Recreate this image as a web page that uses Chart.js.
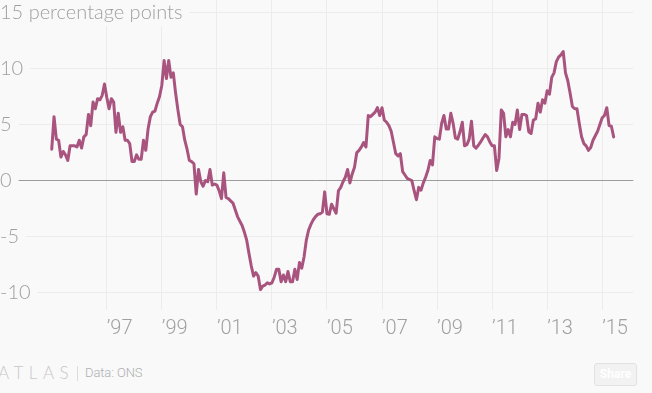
<!DOCTYPE html>
<html>
<head>
<meta charset="utf-8">
<script src="https://cdn.jsdelivr.net/npm/chart.js@4"></script>
<style>
html,body{margin:0;padding:0;background:#f9f9f9;width:652px;height:393px;overflow:hidden;}
#wrap{position:absolute;left:0;top:0;width:652px;height:346px;}
#logo{position:absolute;left:-2px;top:362px;font:300 17px "Lato",sans-serif;letter-spacing:5.5px;color:#c8c8c8;}
#sep{position:absolute;left:77px;top:366px;width:1px;height:15px;background:#dcdcdc;}
#source{position:absolute;left:85px;top:365px;font:300 13px "Roboto",sans-serif;color:#b0b0b0;letter-spacing:-0.1px;}
#share{position:absolute;left:594px;top:363px;width:41px;height:21px;border:1px solid #e2e2e2;border-radius:3px;background:#f2f2f2;color:#ffffff;font:700 12px "Roboto",sans-serif;line-height:21px;text-align:center;}
</style>
</head>
<body>
<div id="wrap"><canvas id="c" width="652" height="346"></canvas></div>
<div id="logo">ATLAS</div>
<div id="sep"></div>
<div id="source">Data: ONS</div>
<div id="share">Share</div>
<script>
// Monthly series, starting January 1995 (percentage points)
const startYear = 1995;
const values = [
  2.8, 5.7, 3.7, 3.6, 2.1, 2.6, 2.3, 1.8, 3.1, 3.1,
  3.1, 3.0, 3.6, 2.9, 3.9, 4.1, 5.9, 4.9, 7.0, 6.4,
  7.3, 7.2, 7.6, 8.6, 7.4, 6.4, 7.3, 7.0, 4.3, 6.0,
  4.3, 4.8, 3.6, 3.6, 3.3, 1.7, 1.7, 2.3, 1.9, 1.9,
  3.6, 2.7, 4.6, 5.7, 6.1, 6.2, 6.9, 7.5, 8.5, 10.7,
  9.1, 10.7, 9.2, 9.6, 7.8, 6.3, 5.0, 4.8, 3.6, 2.8,
  1.8, 1.7, 1.5, -1.2, 1.0, -0.1, -0.5, 0.0, -0.1, 1.0,
  -0.4, -0.3, -0.4, -0.9, -1.6, 0.7, -1.5, -1.6, -1.8, -2.0,
  -2.6, -3.2, -3.6, -4.0, -4.6, -5.3, -6.5, -7.6, -8.5, -8.2,
  -8.5, -9.7, -9.4, -9.3, -9.1, -9.2, -9.1, -8.6, -7.9, -7.9,
  -9.0, -8.4, -9.0, -8.1, -9.0, -9.0, -7.9, -8.8, -7.3, -7.8,
  -6.8, -5.3, -4.4, -3.9, -3.5, -3.2, -3.0, -2.95, -2.8, -1.0,
  -2.95, -3.0, -2.1, -2.5, -2.9, -0.9, -0.6, -0.1, 0.3, 1.0,
  -0.2, 0.6, 1.2, 2.5, 2.7, 3.0, 3.4, 3.0, 5.8, 5.7,
  5.9, 6.1, 6.5, 5.8, 6.5, 5.4, 5.2, 4.9, 4.4, 3.4,
  2.4, 2.2, 2.4, 0.8, 0.5, 0.2, 0.1, 0.0, -0.9, -1.7,
  -0.6, -0.85, -0.2, 0.3, 0.9, 1.8, 1.4, 3.9, 3.75, 3.7,
  5.1, 5.8, 4.6, 4.6, 6.0, 5.1, 3.8, 3.7, 4.35, 5.2,
  3.1, 3.2, 3.7, 5.3, 3.1, 2.9, 3.15, 3.45, 3.8, 4.1,
  3.9, 3.45, 3.1, 3.1, 0.9, 2.0, 6.3, 6.0, 3.9, 4.55,
  3.9, 5.2, 5.0, 6.3, 4.55, 5.9, 5.9, 5.8, 4.35, 4.2,
  5.4, 5.5, 6.9, 6.1, 7.2, 6.9, 8.0, 7.7, 9.2, 9.6,
  10.6, 11.0, 11.2, 11.5, 9.6, 8.9, 7.8, 6.6, 6.4, 6.4,
  5.1, 3.9, 3.3, 3.1, 2.7, 2.95, 3.6, 4.0, 4.4, 5.0,
  5.6, 5.8, 6.5, 4.9, 4.85, 3.9
];
const months = values.map((v, i) => startYear + i / 12);

const xTickYears = [1997, 1999, 2001, 2003, 2005, 2007, 2009, 2011, 2013, 2015];
const xTickLabels = ["\u201997", "\u201999", "\u201901", "\u201903", "\u201905", "\u201907", "\u201909", "\u201911", "\u201913", "\u201915"];
const yTickValues = [-10, -5, 0, 5, 10, 15];
const yTickLabels = ["-10", "-5", "0", "5", "10", "15 percentage points"];

const points = months.map((m, i) => ({ x: m, y: values[i] }));
const BG = '#f9f9f9';

new Chart(document.getElementById('c'), {
  type: 'line',
  data: {
    datasets: [{
      data: points,
      borderColor: '#a8547f',
      borderWidth: 3,
      pointRadius: 0,
      tension: 0,
      fill: false,
      borderJoinStyle: 'round',
      borderCapStyle: 'round'
    }]
  },
  options: {
    responsive: false,
    animation: false,
    devicePixelRatio: 1,
    layout: { padding: { left: 0, right: 18.7, top: 0, bottom: 0 } },
    plugins: { legend: { display: false }, tooltip: { enabled: false } },
    scales: {
      x: {
        type: 'linear',
        min: 1993.12,
        max: 2016.13,
        afterBuildTicks: (s) => { s.ticks = xTickYears.map(v => ({ value: v })); },
        afterFit: (s) => { s.height = 35.8; s.paddingLeft = 0; s.paddingRight = 0; },
        border: { display: false },
        grid: { color: '#ececec', lineWidth: 1, drawTicks: false },
        ticks: {
          autoSkip: false,
          maxRotation: 0,
          align: 'start',
          padding: 7,
          color: '#a0a0a0',
          font: { family: 'Roboto', size: 20, weight: '300' },
          callback: (v) => { const i = xTickYears.indexOf(v); return i >= 0 ? xTickLabels[i] : ''; }
        }
      },
      y: {
        type: 'linear',
        min: -11.54,
        max: 16.09,
        afterBuildTicks: (s) => { s.ticks = yTickValues.map(v => ({ value: v })); },
        afterFit: (s) => { s.width = 0; s.paddingTop = 0; s.paddingBottom = 0; },
        border: { display: false },
        grid: {
          drawTicks: false,
          lineWidth: 1,
          color: (ctx) => (ctx.tick && ctx.tick.value === 0) ? '#9c9c9c' : '#ececec'
        },
        ticks: {
          mirror: true,
          padding: 0,
          color: '#a0a0a0',
          font: { family: 'Lato', size: 20, weight: '300' },
          showLabelBackdrop: true,
          backdropColor: BG,
          backdropPadding: { top: 2, bottom: 2, left: 0, right: 7 },
          callback: (v) => { const i = yTickValues.indexOf(v); return i >= 0 ? yTickLabels[i] : ''; }
        }
      }
    }
  }
});
</script>
</body>
</html>
